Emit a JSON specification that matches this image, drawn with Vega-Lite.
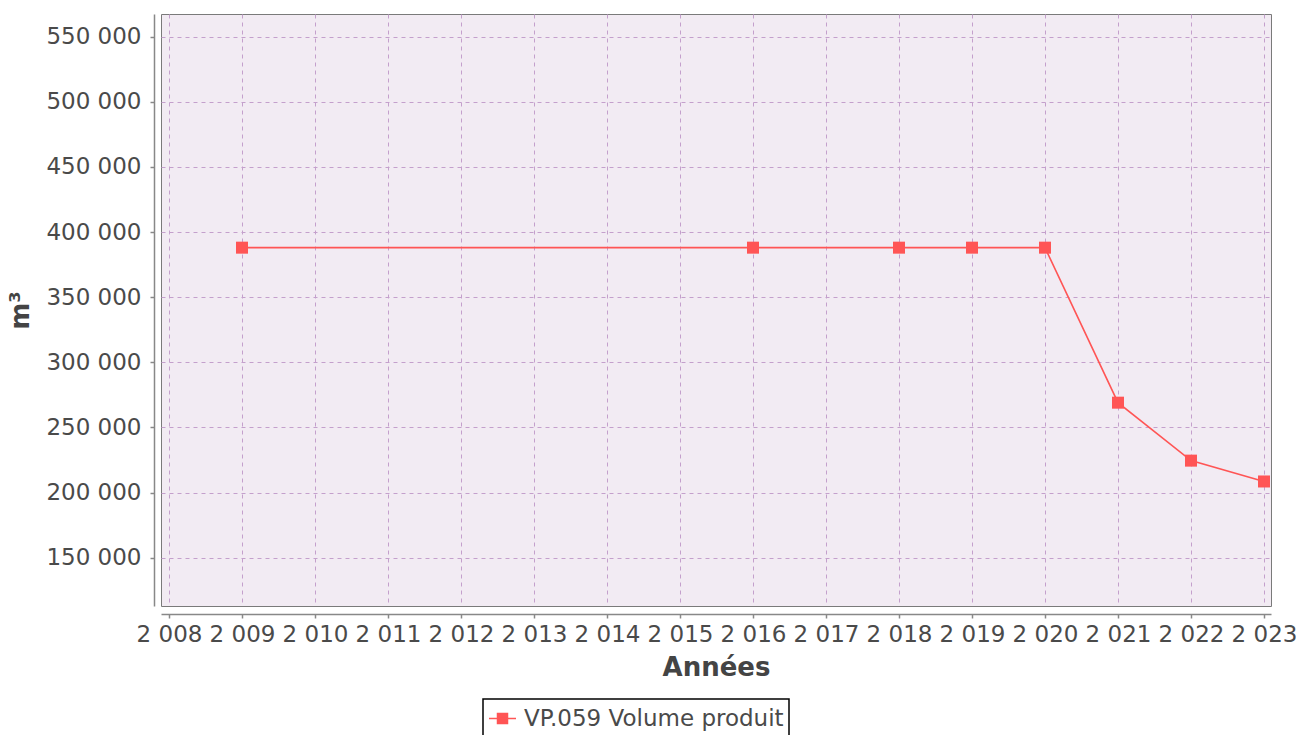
{
  "$schema": "https://vega.github.io/schema/vega-lite/v6.json",
  "autosize": "none",
  "width": 1110,
  "height": 592,
  "padding": {"left": 161, "top": 14, "right": 25, "bottom": 129},
  "background": "white",
  "config": {
    "locale": {"number": {"decimal": ",", "thousands": " ", "grouping": [3], "currency": ["", " €"]}},
    "font": "DejaVu Sans",
    "view": {"fill": "#f2ebf3", "stroke": "#7a7a7a", "strokeWidth": 1},
    "axis": {
      "labelFont": "DejaVu Sans",
      "labelFontSize": 23,
      "labelColor": "#4a4a4a",
      "titleFont": "DejaVu Sans",
      "titleFontSize": 26,
      "titleFontWeight": "bold",
      "titleColor": "#444444",
      "domainColor": "#888888",
      "domainWidth": 1.5,
      "tickColor": "#888888",
      "tickSize": 4,
      "tickWidth": 1.5,
      "gridColor": "#c4a0cc",
      "gridDash": [4, 4],
      "gridWidth": 1,
      "gridOpacity": 1,
      "labelOverlap": false,
      "labelBound": false,
      "labelFlush": false
    }
  },
  "data": {
    "values": [
      {"year": 2009, "value": 388000, "series": "VP.059 Volume produit"},
      {"year": 2016, "value": 388000, "series": "VP.059 Volume produit"},
      {"year": 2018, "value": 388000, "series": "VP.059 Volume produit"},
      {"year": 2019, "value": 388000, "series": "VP.059 Volume produit"},
      {"year": 2020, "value": 388000, "series": "VP.059 Volume produit"},
      {"year": 2021, "value": 269000, "series": "VP.059 Volume produit"},
      {"year": 2022, "value": 224500, "series": "VP.059 Volume produit"},
      {"year": 2023, "value": 208500, "series": "VP.059 Volume produit"}
    ]
  },
  "encoding": {
    "x": {
      "field": "year",
      "type": "quantitative",
      "scale": {"domain": [2007.89, 2023.096], "nice": false, "zero": false},
      "axis": {
        "values": [2008, 2009, 2010, 2011, 2012, 2013, 2014, 2015, 2016, 2017, 2018, 2019, 2020, 2021, 2022, 2023],
        "format": ",d",
        "title": "Années",
        "offset": 8,
        "labelPadding": 5,
        "titlePadding": 8
      }
    },
    "y": {
      "field": "value",
      "type": "quantitative",
      "scale": {"domain": [112900, 567400], "nice": false, "zero": false},
      "axis": {
        "values": [150000, 200000, 250000, 300000, 350000, 400000, 450000, 500000, 550000],
        "format": ",d",
        "title": "m³",
        "offset": 7,
        "labelPadding": 9,
        "titlePadding": 12
      }
    },
    "color": {
      "field": "series",
      "type": "nominal",
      "scale": {"range": ["#ff5555"]},
      "legend": {
        "orient": "none",
        "legendX": 322,
        "legendY": 685,
        "title": null,
        "padding": 5,
        "strokeColor": "#000000",
        "fillColor": "#ffffff",
        "labelFont": "DejaVu Sans",
        "labelFontSize": 23,
        "labelColor": "#4a4a4a",
        "labelOffset": 7,
        "labelLimit": 0,
        "symbolType": "M-1,0H1M-0.37,-0.37H0.37V0.37H-0.37Z",
        "symbolSize": 729,
        "symbolStrokeWidth": 1.5,
        "symbolFillColor": "#ff4d4d",
        "symbolStrokeColor": "#ff5555",
        "encode": {"legend": {"update": {"strokeWidth": {"value": 1.5}}}}
      }
    }
  },
  "layer": [
    {"mark": {"type": "line", "strokeWidth": 1.6, "color": "#ff6666"}},
    {"mark": {"type": "point", "shape": "square", "filled": true, "size": 144, "opacity": 1, "color": "#ff4d4d"}}
  ]
}
